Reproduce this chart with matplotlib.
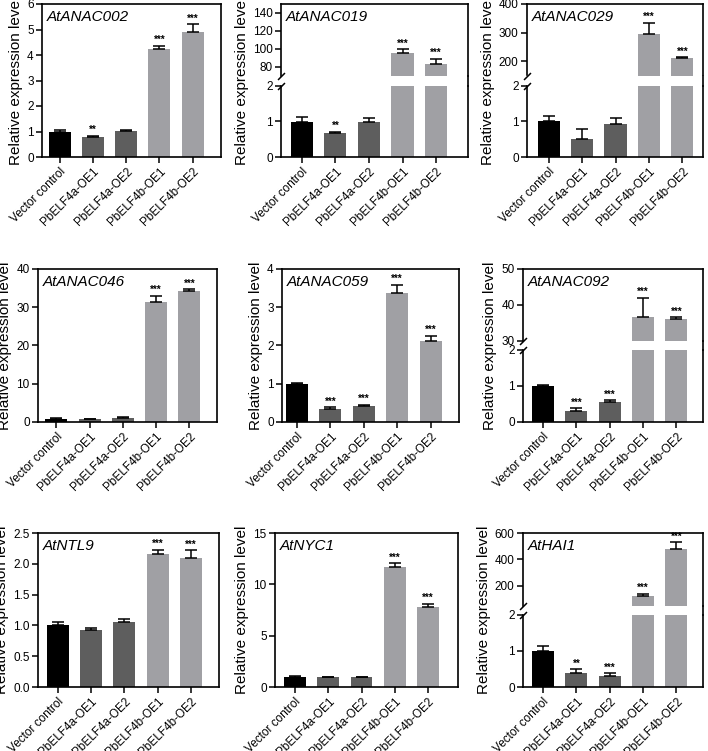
import numpy as np
import matplotlib.pyplot as plt
from matplotlib.lines import Line2D

plt.rcParams['font.family'] = ['Liberation Sans', 'DejaVu Sans']

W, H = 708, 751

groups = ['Vector control', 'PbELF4a-OE1', 'PbELF4a-OE2', 'PbELF4b-OE1', 'PbELF4b-OE2']
colors = ['#000000', '#5e5e5e', '#5e5e5e', '#a0a0a4', '#a0a0a4']

# values: means, upper error, significance
anac002_mean = [1.00, 0.77, 1.02, 4.23, 4.92]
anac002_err = [0.05, 0.07, 0.05, 0.14, 0.28]
anac002_sig = ['', '**', '', '***', '***']

anac019_mean = [0.99, 0.68, 0.99, 95.0, 82.6]
anac019_err = [0.14, 0.02, 0.11, 4.4, 6.0]
anac019_sig = ['', '**', '', '***', '***']

anac029_mean = [1.00, 0.49, 0.91, 294.0, 210.5]
anac029_err = [0.15, 0.29, 0.19, 41.0, 3.5]
anac029_sig = ['', '', '', '***', '***']

anac046_mean = [0.9, 0.7, 1.1, 31.4, 34.2]
anac046_err = [0.25, 0.15, 0.25, 1.6, 0.5]
anac046_sig = ['', '', '', '***', '***']

anac059_mean = [1.00, 0.33, 0.42, 3.38, 2.11]
anac059_err = [0.03, 0.06, 0.03, 0.21, 0.14]
anac059_sig = ['', '***', '***', '***', '***']

anac092_mean = [1.00, 0.31, 0.56, 36.7, 36.0]
anac092_err = [0.02, 0.07, 0.04, 5.3, 0.6]
anac092_sig = ['', '***', '***', '***', '***']

ntl9_mean = [1.00, 0.93, 1.06, 2.16, 2.10]
ntl9_err = [0.05, 0.02, 0.05, 0.07, 0.12]
ntl9_sig = ['', '', '', '***', '***']

nyc1_mean = [1.0, 0.95, 0.95, 11.65, 7.76]
nyc1_err = [0.06, 0.06, 0.05, 0.42, 0.33]
nyc1_sig = ['', '', '', '***', '***']

hai1_mean = [1.00, 0.40, 0.30, 119.0, 478.0]
hai1_err = [0.12, 0.09, 0.08, 20.0, 53.0]
hai1_sig = ['', '**', '***', '***', '***']

fig = plt.figure(figsize=(W / 100, H / 100), dpi=100)


def px_axes(l, t, r, b):
    return fig.add_axes([l / W, 1 - b / H, (r - l) / W, (b - t) / H])


def draw(ax, mean, err, sig, xlim):
    x = np.arange(len(groups))
    ax.bar(x, mean, width=0.66, color=colors, edgecolor='none')
    ax.errorbar(x, mean, yerr=[np.zeros(len(mean)), err], fmt='none', ecolor='k',
                elinewidth=1.1, capsize=4.5, capthick=1.1)
    for i in range(len(mean)):
        if sig[i]:
            ax.annotate(sig[i], (i, mean[i] + err[i]), xytext=(0, 0.5),
                        textcoords='offset points', ha='center', va='bottom',
                        fontsize=7, fontweight='bold')
    ax.set_xlim(xlim)
    for s in ax.spines.values():
        s.set_linewidth(1.2)
    ax.tick_params(direction='out', length=4, width=1.1, labelsize=8.5, pad=2)


def xlabels(ax):
    ax.set_xticks(np.arange(len(groups)))
    ax.set_xticklabels(groups, rotation=45, ha='right', rotation_mode='anchor', fontsize=8.5)


def title(ax, name):
    ax.annotate(name, (0, 1), xycoords='axes fraction', xytext=(3.5, -4),
                textcoords='offset points', ha='left', va='top',
                fontsize=11, style='italic')


def simple_panel(box, name, mean, err, sig, ylim, yticks, xlim, fmt=None):
    ax = px_axes(*box)
    draw(ax, mean, err, sig, xlim)
    ax.set_ylim(ylim)
    ax.set_yticks(yticks)
    if fmt:
        ax.set_yticklabels([fmt % v for v in yticks])
    xlabels(ax)
    title(ax, name)
    ax.set_ylabel('Relative expression level', fontsize=11, labelpad=3)
    return ax


def broken_panel(box, gap, name, mean, err, sig, low_lim, low_ticks, up_lim, up_ticks, xlim):
    l, t, r, b = box
    half = (b - t - gap) / 2
    up = px_axes(l, t, r, t + half)
    low = px_axes(l, b - half, r, b)
    draw(up, mean, err, sig, xlim)
    draw(low, mean, err, sig, xlim)
    up.set_ylim(up_lim)
    up.set_yticks(up_ticks)
    low.set_ylim(low_lim)
    low.set_yticks(low_ticks)
    up.spines['bottom'].set_visible(False)
    up.set_xticks([])
    low.spines['top'].set_visible(False)
    xlabels(low)
    title(up, name)
    # continuous right frame across the gap
    fig.add_artist(Line2D([r / W, r / W], [1 - (t + half) / H, 1 - (b - half) / H],
                          color='k', lw=1.2))
    # break marks on the left axis
    kw = dict(marker=[(-1, -1), (1, 1)], markersize=5, linestyle='none',
              color='k', mec='k', mew=1.1, clip_on=False)
    up.plot([0], [0], transform=up.transAxes, **kw)
    low.plot([0], [1], transform=low.transAxes, **kw)
    # label sits left of the wider upper tick labels, centred on the whole panel
    yc = 1 - ((b - t) / 2) / half
    up.set_ylabel('Relative expression level', fontsize=11, labelpad=3, y=yc)
    return up, low


# row 1
simple_panel((42, 4, 221, 157), 'AtANAC002', anac002_mean, anac002_err, anac002_sig,
             (0, 6), range(0, 7), (-0.53, 4.85))
broken_panel((281, 4, 468, 157), 10, 'AtANAC019', anac019_mean, anac019_err, anac019_sig,
             (0, 2), [0, 1, 2], (70, 150), [80, 100, 120, 140], (-0.62, 4.95))
broken_panel((527, 4, 703, 157), 10, 'AtANAC029', anac029_mean, anac029_err, anac029_sig,
             (0, 2), [0, 1, 2], (150, 400), [200, 300, 400], (-0.65, 4.62))

# row 2
simple_panel((38, 269, 217, 422), 'AtANAC046', anac046_mean, anac046_err, anac046_sig,
             (0, 40), range(0, 41, 10), (-0.55, 4.83))
simple_panel((282, 269, 459, 422), 'AtANAC059', anac059_mean, anac059_err, anac059_sig,
             (0, 4), range(0, 5), (-0.45, 4.85))
broken_panel((523, 269, 703, 422), 9, 'AtANAC092', anac092_mean, anac092_err, anac092_sig,
             (0, 2), [0, 1, 2], (30, 50), [30, 40, 50], (-0.6, 4.8))

# row 3
simple_panel((38, 533, 219, 687), 'AtNTL9', ntl9_mean, ntl9_err, ntl9_sig,
             (0, 2.5), np.arange(0, 2.51, 0.5), (-0.6, 4.85), fmt='%.1f')
simple_panel((275, 533, 458, 687), 'AtNYC1', nyc1_mean, nyc1_err, nyc1_sig,
             (0, 15), range(0, 16, 5), (-0.6, 4.9))
broken_panel((523, 533, 703, 687), 9, 'AtHAI1', hai1_mean, hai1_err, hai1_sig,
             (0, 2), [0, 1, 2], (50, 600), [200, 400, 600], (-0.6, 4.8))

fig.savefig('out.png', dpi=100)
